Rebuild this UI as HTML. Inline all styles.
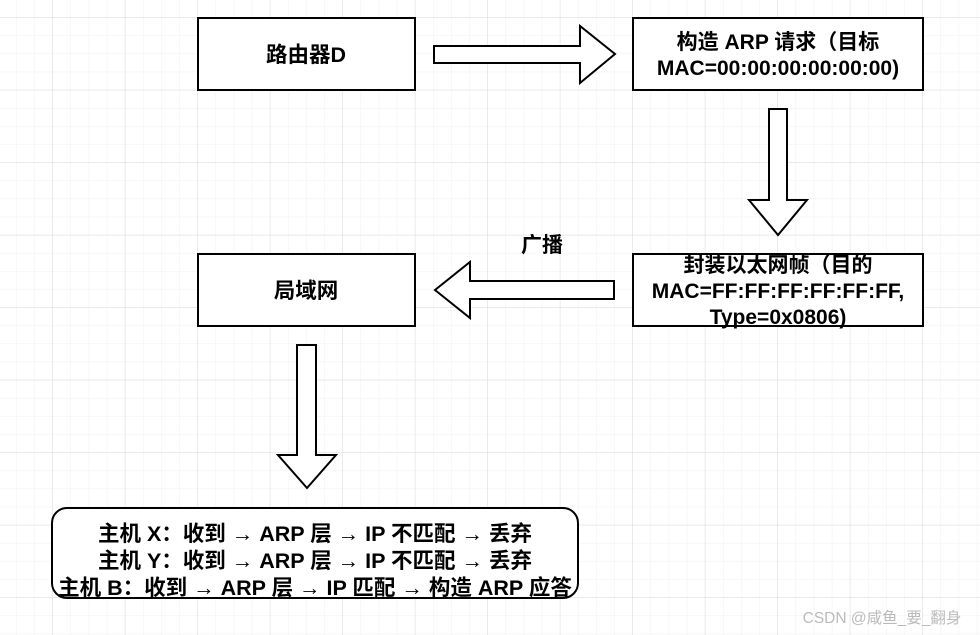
<!DOCTYPE html>
<html><head><meta charset="utf-8"><style>
html,body{margin:0;padding:0;background:#fff;}
svg{display:block}
text{font-family:"Liberation Sans","Noto Sans CJK SC",sans-serif;font-weight:bold;fill:#000;text-anchor:middle}
</style></head><body>
<svg width="980" height="635" viewBox="0 0 980 635" xmlns="http://www.w3.org/2000/svg">
<defs>
<pattern id="minor" x="16.2" y="-0.8" width="18.125" height="18.125" patternUnits="userSpaceOnUse">
<path d="M0 0V18.125M0 0H18.125" stroke="#f0f0f0" stroke-width="1" fill="none"/>
</pattern>
<pattern id="major" x="52.3" y="17.3" width="72.5" height="72.5" patternUnits="userSpaceOnUse">
<path d="M0 0V72.5M0 0H72.5" stroke="#dcdcdc" stroke-width="1" fill="none"/>
</pattern>
</defs>
<rect width="980" height="635" fill="url(#minor)"/>
<rect width="980" height="635" fill="url(#major)"/>
<g stroke="#000" stroke-width="2" fill="#fff">
<rect x="198" y="18" width="217" height="72"/>
<rect x="633" y="18" width="290" height="72"/>
<rect x="198" y="254" width="217" height="72"/>
<rect x="633" y="254" width="290" height="72"/>
<rect x="52" y="508" width="526" height="90" rx="15"/>
<polygon points="434,46 580,46 580,26 615,54 580,83 580,63 434,63"/>
<polygon points="769,109 787,109 787,200 807,200 778,235 749,200 769,200"/>
<polygon points="614,281 470,281 470,262 435,290 470,318 470,299 614,299"/>
<polygon points="297,345 316,345 316,455 336,455 307,488 278,455 297,455"/>
</g>
<text x="306" y="62" font-size="21.5">路由器D</text>
<text x="778" y="49" font-size="21">构造 ARP 请求（目标</text>
<text x="778" y="75" font-size="21">MAC=00:00:00:00:00:00)</text>
<text x="306" y="298" font-size="21.5">局域网</text>
<text x="778" y="272" font-size="21">封装以太网帧（目的</text>
<text x="778" y="298" font-size="21">MAC=FF:FF:FF:FF:FF:FF,</text>
<text x="778" y="324" font-size="21">Type=0x0806)</text>
<text x="542" y="252" font-size="21">广播</text>
<text x="315" y="541" font-size="21.5">主机 X：收到 → ARP 层 → IP 不匹配 → 丢弃</text>
<text x="315" y="568" font-size="21.5">主机 Y：收到 → ARP 层 → IP 不匹配 → 丢弃</text>
<text x="315" y="595" font-size="21.5">主机 B：收到 → ARP 层 → IP 匹配 → 构造 ARP 应答</text>
<text x="882" y="623" font-size="15.5" style="font-weight:normal;fill:#bbb">CSDN @咸鱼_要_翻身</text>
</svg>
</body></html>
